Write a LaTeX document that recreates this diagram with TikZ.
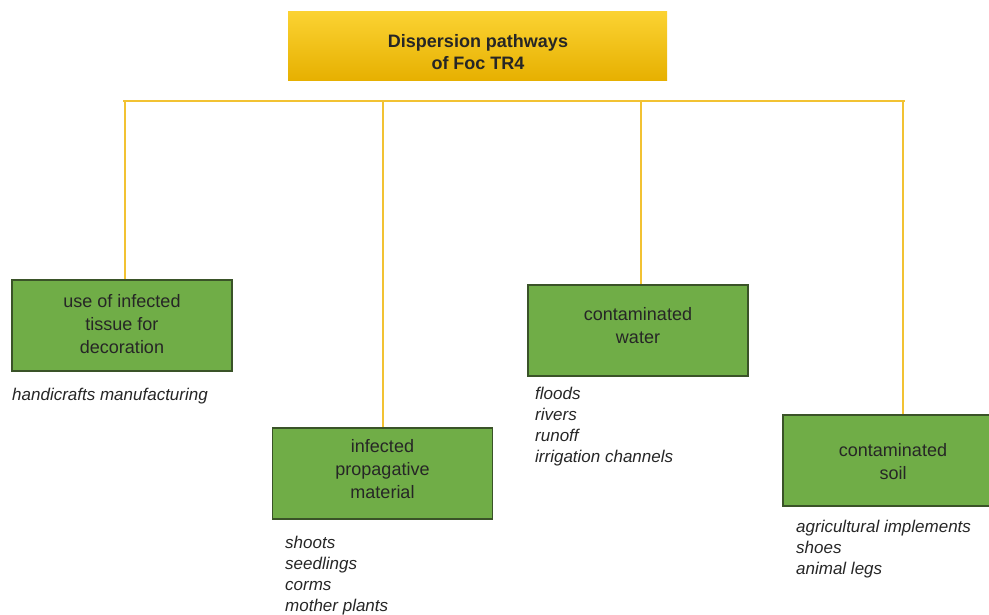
\documentclass[tikz,border=0pt]{standalone}
\usepackage{fontspec}
\setmainfont{Liberation Sans}
\begin{document}
\begin{tikzpicture}[x=1pt,y=-1pt,
  linkline/.style={draw=lineyellow, line width=1.8pt},
  greenbox/.style={draw=boxborder, line width=1.4pt, fill=boxgreen, minimum width=220pt, minimum height=91pt, inner sep=0pt},
  boxtext/.style={align=center, font=\fontsize{18}{23}\selectfont, text=black!85, inner sep=0pt},
  titlebox/.style={minimum width=379pt, minimum height=69pt, top color=titletop, bottom color=titlebot, inner sep=0pt},
  titletext/.style={align=center, font=\fontsize{18}{22.5}\selectfont\bfseries, text=black!85, inner sep=0pt},
  sublist/.style={anchor=north west, align=left, inner sep=0pt, font=\fontsize{17}{21}\selectfont\itshape, text=black!85},
]
\definecolor{lineyellow}{HTML}{F2C232}
\definecolor{boxgreen}{HTML}{70AD47}
\definecolor{boxborder}{HTML}{3A5328}
\definecolor{titletop}{HTML}{FBD232}
\definecolor{titlebot}{HTML}{E6B000}
\clip (0,0) rectangle (989,615);
\useasboundingbox (0,0) rectangle (989,615);

\node[titlebox] (title) at (477.5,46.5) {};
\node[titletext] (titlet) at (478,52) {Dispersion pathways\\of Foc TR4};

\node[greenbox] (b1) at (122,325.5) {};
\node[greenbox] (b2) at (382.5,473.5) {};
\node[greenbox] (b3) at (638,330.5) {};
\node[greenbox] (b4) at (893,460.5) {};

\node[boxtext] (t1) at (122,324.5) {use of infected\\tissue for\\decoration};
\node[boxtext] (t2) at (382.5,469.5) {infected\\propagative\\material};
\node[boxtext] (t3) at (638,325.5) {contaminated\\water};
\node[boxtext] (t4) at (893,461.5) {contaminated\\soil};

\coordinate (hl) at (123,101);
\coordinate (hr) at (905,101);
\coordinate (v1) at (125,101);
\coordinate (v2) at (383,101);
\coordinate (v3) at (641,101);
\coordinate (v4) at (903,101);

\draw[linkline] (hl) -- (hr);
\draw[linkline] (v1) -- (v1 |- b1.north);
\draw[linkline] (v2) -- (v2 |- b2.north);
\draw[linkline] (v3) -- (v3 |- b3.north);
\draw[linkline] (v4) -- (v4 |- b4.north);

\node[sublist] (l1) at (12,388) {handicrafts manufacturing};
\node[sublist] (l2) at (285,536) {shoots\\seedlings\\corms\\mother plants};
\node[sublist] (l3) at (535,387) {floods\\rivers\\runoff\\irrigation channels};
\node[sublist] (l4) at (796,520) {agricultural implements\\shoes\\animal legs};
\end{tikzpicture}
\end{document}
